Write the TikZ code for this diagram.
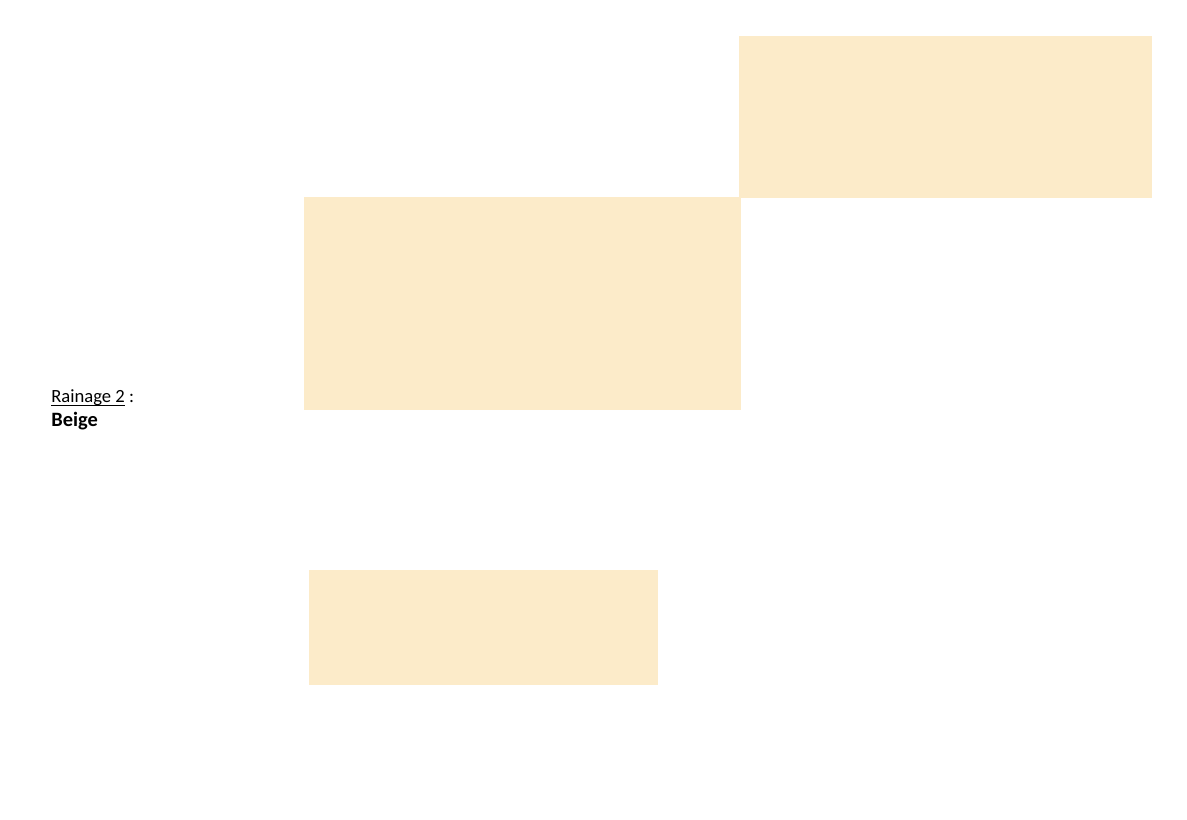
\documentclass[tikz,border=0pt]{standalone}
\usepackage{fontspec}
\setmainfont{Carlito}
\usepackage{tikz}

\definecolor{beige}{HTML}{FCEBC9}
\newcommand\ulword[1]{\setbox0\hbox{#1}\rlap{\rule[-1.7pt]{\wd0}{0.55pt}}#1}

\begin{document}
\begin{tikzpicture}[x=0.02cm,y=-0.02cm,
    panel/.style={fill=beige},
    legend/.style={anchor=north west,align=left,inner sep=0pt,font=\fontsize{11.6pt}{13.6pt}\selectfont}]
    \useasboundingbox (0,0) rectangle (1187,819);

    \fill[panel] (739,36) rectangle (1152,198);
    \fill[panel] (304,197) rectangle (741,410);
    \fill[panel] (309,570) rectangle (658,685);

    \node[legend] (rainage) at (51,389.5) {{\fontsize{10.6pt}{13.6pt}\selectfont\ulword{Rainage 2} :}\\\textbf{Beige}};
\end{tikzpicture}
\end{document}
